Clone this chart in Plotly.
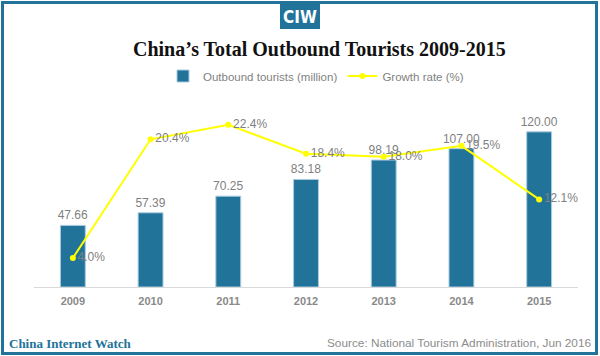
import plotly.graph_objects as go

years = ["2009", "2010", "2011", "2012", "2013", "2014", "2015"]
tourists = [47.66, 57.39, 70.25, 83.18, 98.19, 107.00, 120.00]
growth = [4.0, 20.4, 22.4, 18.4, 18.0, 19.5, 12.1]

W, H = 600, 356
ML, MR, MT, MB = 34, 22, 106, 69
PW, PH = W - ML - MR, H - MT - MB

def px(x):
    return (x - ML) / PW

def py(y):
    return (H - MB - y) / PH

BLUE = "#21739a"
GRAY = "#7f7f7f"

fig = go.Figure()
fig.add_trace(go.Bar(
    x=years, y=tourists, name="Outbound tourists (million)",
    marker=dict(color=BLUE, line=dict(color="#a9cbe0", width=1)),
    texttemplate="%{y:.2f}", textposition="outside", constraintext="none",
    textfont=dict(family="Liberation Sans, Arial", size=12, color=GRAY),
    cliponaxis=False,
))
fig.add_trace(go.Scatter(
    x=years, y=growth, name="Growth rate (%)", yaxis="y2",
    mode="lines+markers+text",
    line=dict(color="#ffff00", width=2),
    marker=dict(color="#ffff00", size=6),
    text=[f"{g:.1f}%" for g in growth], textposition="middle right",
    textfont=dict(family="Liberation Sans, Arial", size=12, color=GRAY),
    cliponaxis=False,
))

shapes = [
    dict(type="rect", xref="paper", yref="paper",
         x0=px(2.5), x1=px(596.5), y0=py(2.5), y1=py(353.5),
         line=dict(color=BLUE, width=3), fillcolor="rgba(0,0,0,0)", layer="below"),
    dict(type="rect", xref="paper", yref="paper",
         x0=px(280), x1=px(320), y0=py(4), y1=py(29),
         line=dict(width=0), fillcolor=BLUE),
]

annotations = [
    dict(text="<b>CIW</b>", x=px(300), y=py(16.5), xref="paper", yref="paper",
         showarrow=False, xanchor="center", yanchor="middle",
         font=dict(family="Liberation Sans Narrow, DejaVu Sans Condensed, Arial Narrow", size=17, color="white")),
    dict(text="<b>China’s Total Outbound Tourists 2009-2015</b>", x=px(319), y=py(49),
         xref="paper", yref="paper", showarrow=False, xanchor="center", yanchor="middle",
         font=dict(family="Liberation Serif, Georgia, serif", size=20, color="#111111")),
    dict(text="<b>China Internet Watch</b>", x=px(7), y=py(343), xref="paper", yref="paper",
         showarrow=False, xanchor="left", yanchor="middle",
         font=dict(family="Liberation Serif, Georgia, serif", size=13, color=BLUE)),
    dict(text="Source: National Tourism Administration, Jun 2016", x=px(593), y=py(343),
         xref="paper", yref="paper", showarrow=False, xanchor="right", yanchor="middle",
         font=dict(family="Liberation Sans, Arial", size=11.8, color="#8c8c8c")),
]

fig.update_layout(
    width=W, height=H,
    margin=dict(l=ML, r=MR, t=MT, b=MB, pad=0),
    paper_bgcolor="white", plot_bgcolor="white",
    bargap=0.68,
    showlegend=True,
    legend=dict(orientation="h", x=px(316), xanchor="center", y=py(76), yanchor="middle",
                font=dict(family="Liberation Sans, Arial", size=11.5, color=GRAY),
                itemwidth=30, bgcolor="rgba(0,0,0,0)"),
    xaxis=dict(type="category", showgrid=False, showline=True, linecolor="#d9d9d9", linewidth=1,
               ticks="", tickfont=dict(family="Liberation Sans, Arial", size=11, color="#8a8a8a"),
               tickprefix="<b>", ticksuffix="</b>",
               ticklabelstandoff=4),
    yaxis=dict(range=[0, 140], visible=False, showgrid=False),
    yaxis2=dict(range=[0, 25], overlaying="y", side="right", visible=False, showgrid=False),
    shapes=shapes,
    annotations=annotations,
    font=dict(family="Liberation Sans, Arial"),
)

fig.write_html("out.html", config={"displayModeBar": False},
               post_script="document.body.style.margin='0';document.body.style.overflow='hidden';")
